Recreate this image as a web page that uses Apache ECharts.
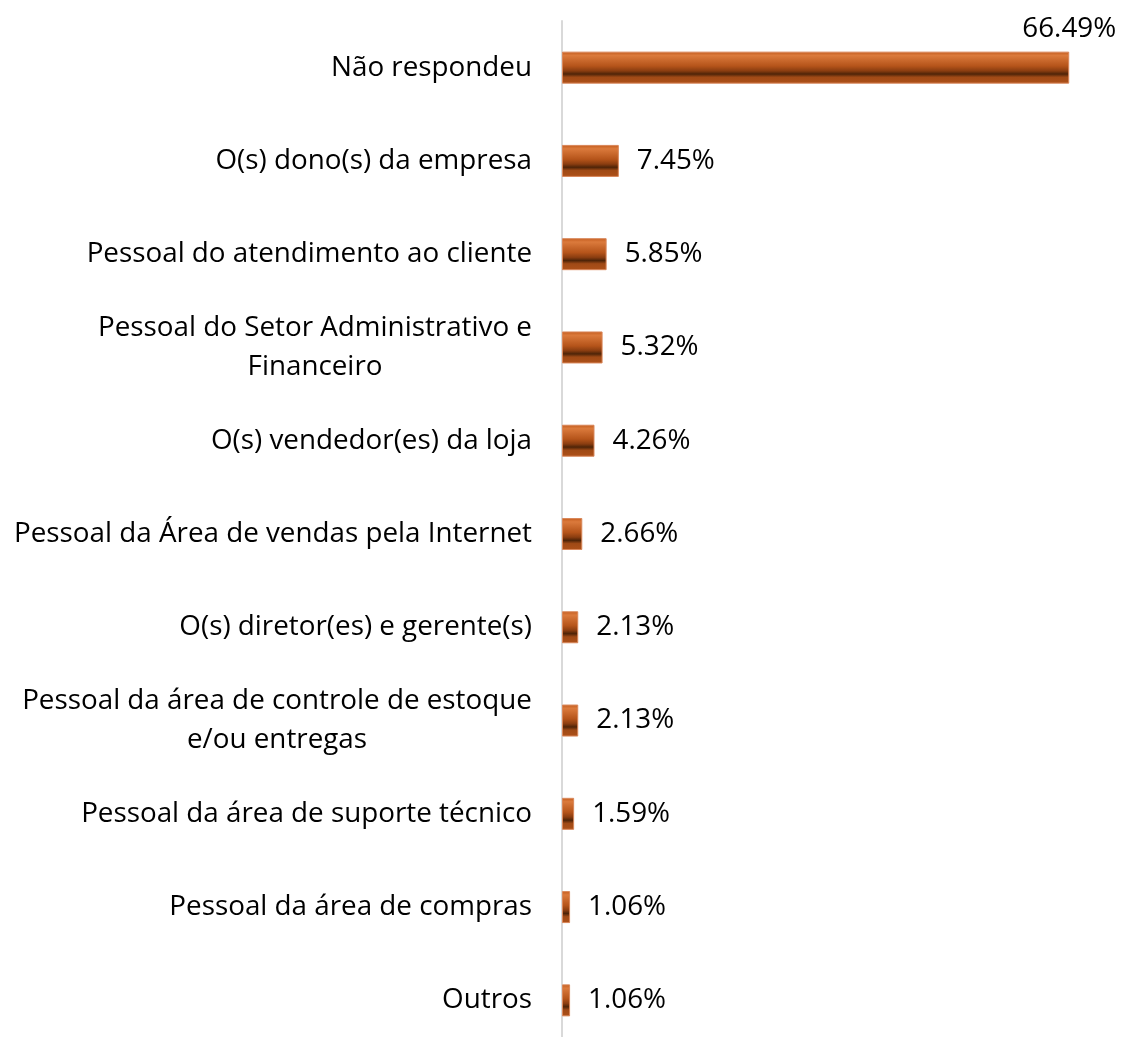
<!DOCTYPE html>
<html>
<head>
    <meta charset="utf-8">
    <script src="https://cdn.jsdelivr.net/npm/echarts@6/dist/echarts.min.js"></script>
    <style>
        body { margin: 0; background: #ffffff; }
    </style>
</head>
<body>
    <div id="main" style="width: 1121px;height:1037px;"></div>
    <script type="text/javascript">
        var myChart = echarts.init(document.getElementById('main'));

        // categories, top to bottom
        var categories = [
            'Não respondeu',
            'O(s) dono(s) da empresa',
            'Pessoal do atendimento ao cliente',
            'Pessoal do Setor Administrativo e\nFinanceiro',
            'O(s) vendedor(es) da loja',
            'Pessoal da Área de vendas pela Internet',
            'O(s) diretor(es) e gerente(s)',
            'Pessoal da área de controle de estoque\ne/ou entregas',
            'Pessoal da área de suporte técnico',
            'Pessoal da área de compras',
            'Outros'
        ];
        var values = [66.49, 7.45, 5.85, 5.32, 4.26, 2.66, 2.13, 2.13, 1.59, 1.06, 1.06];

        var fontName = 'Open Sans';
        var fontSize = 27.8;

        // width of the widest line, so wrapped labels get centred lines
        var ctx = document.createElement('canvas').getContext('2d');
        ctx.font = fontSize + 'px "' + fontName + '"';
        var rich = {};
        categories.forEach(function (c, i) {
            if (c.indexOf('\n') < 0) return;
            var w = 0;
            c.split('\n').forEach(function (s) {
                w = Math.max(w, ctx.measureText(s).width);
            });
            rich['c' + i] = {
                width: Math.ceil(w),
                align: 'center',
                fontFamily: fontName,
                fontSize: fontSize,
                lineHeight: 39,
                color: '#000000'
            };
        });

        // bevel look of the bars
        var barColor = new echarts.graphic.LinearGradient(0, 0, 0, 1, [
            { offset: 0, color: '#C25B1D' },
            { offset: 0.12, color: '#DB7A3C' },
            { offset: 0.45, color: '#B5541A' },
            { offset: 0.6, color: '#8A3D10' },
            { offset: 0.7, color: '#4E2408' },
            { offset: 0.8, color: '#A04A16' },
            { offset: 1, color: '#AE5119' }
        ]);

        var seriesData = values.map(function (v, i) {
            var item = { value: v };
            if (i === 0) {
                item.label = {
                    position: ['100%', -9],
                    align: 'center',
                    verticalAlign: 'bottom'
                };
            }
            return item;
        });

        var option = {
            animation: false,
            grid: {
                left: 562,
                top: 21,
                width: 534,
                height: 1026,
                outerBoundsMode: 'none',
                containLabel: false
            },
            xAxis: {
                type: 'value',
                min: 0,
                max: 70,
                show: false
            },
            yAxis: {
                type: 'category',
                inverse: true,
                data: categories,
                axisLine: { show: true, lineStyle: { color: '#D9D9D9', width: 2 } },
                axisTick: { show: false },
                axisLabel: {
                    margin: 30,
                    fontFamily: fontName,
                    fontSize: fontSize,
                    color: '#000000',
                    lineHeight: 39,
                    formatter: function (val, idx) {
                        if (val.indexOf('\n') < 0) return val;
                        return val.split('\n').map(function (s) {
                            return '{c' + idx + '|' + s + '}';
                        }).join('\n');
                    },
                    rich: rich
                }
            },
            series: [
                {
                    type: 'bar',
                    data: seriesData,
                    barWidth: 32,
                    itemStyle: {
                        color: barColor,
                        borderColor: '#D9875A',
                        borderWidth: 1
                    },
                    label: {
                        show: true,
                        position: 'right',
                        distance: 18,
                        fontFamily: fontName,
                        fontSize: fontSize,
                        color: '#000000',
                        formatter: function (p) {
                            return p.value.toFixed(2) + '%';
                        }
                    }
                }
            ]
        };

        myChart.setOption(option);
    </script>
</body>
</html>
